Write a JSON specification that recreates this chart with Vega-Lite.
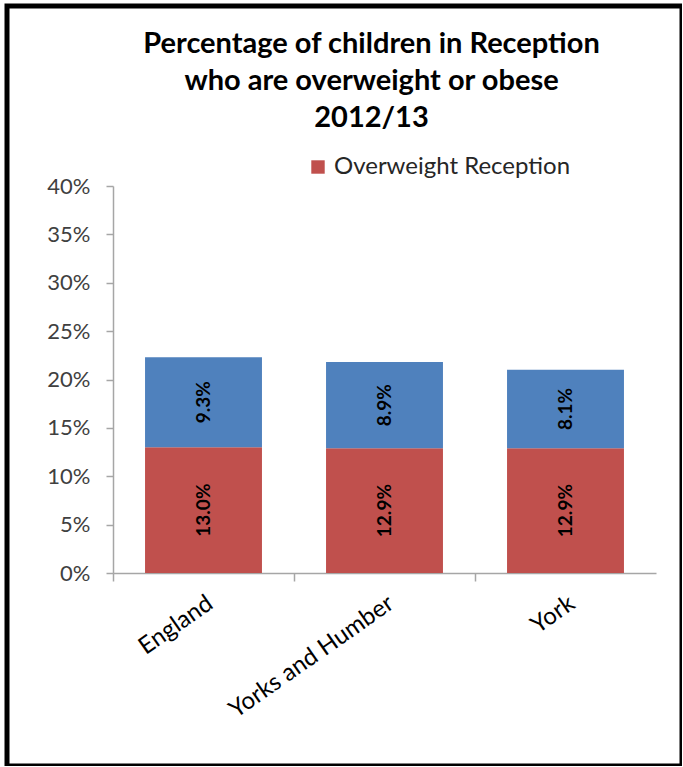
{
  "$schema": "https://vega.github.io/schema/vega-lite/v6.json",
  "width": 675,
  "height": 760,
  "autosize": "none",
  "padding": {"left": 7, "top": 6, "right": 0, "bottom": 0},
  "background": "white",
  "title": {
    "text": ["Percentage of children in Reception", "who are overweight or obese", "2012/13"],
    "font": "Lato",
    "fontSize": 29,
    "fontWeight": "bold",
    "color": "#000000",
    "lineHeight": 37,
    "anchor": "middle",
    "frame": "group",
    "baseline": "top",
    "offset": -127,
    "dx": 27
  },
  "data": {
    "values": [
      {"area": "England", "measure": "Overweight Reception", "value": 0.130},
      {"area": "England", "measure": "Obese Reception", "value": 0.093},
      {"area": "Yorks and Humber", "measure": "Overweight Reception", "value": 0.129},
      {"area": "Yorks and Humber", "measure": "Obese Reception", "value": 0.089},
      {"area": "York", "measure": "Overweight Reception", "value": 0.129},
      {"area": "York", "measure": "Obese Reception", "value": 0.081}
    ]
  },
  "transform": [
    {"stack": "value", "groupby": ["area"], "sort": [{"field": "measure", "order": "descending"}], "as": ["v0", "v1"]},
    {"calculate": "(datum.v0 + datum.v1) / 2", "as": "mid"}
  ],
  "encoding": {
    "x": {
      "field": "area",
      "type": "nominal",
      "sort": ["England", "Yorks and Humber", "York"],
      "scale": {"type": "band", "range": [106, 649], "paddingInner": 0, "paddingOuter": 0},
      "axis": {
        "title": null,
        "offset": -193,
        "bandPosition": 0,
        "domainColor": "#a6a6a6",
        "domainWidth": 1.5,
        "tickColor": "#a6a6a6",
        "tickWidth": 1.5,
        "tickSize": 8,
        "labelAngle": -35,
        "labelFont": "Lato",
        "labelFontSize": 24,
        "labelColor": "#000000",
        "labelPadding": 10,
        "labelLimit": 400
      }
    }
  },
  "layer": [
    {
      "mark": {"type": "bar", "width": {"band": 0.646}},
      "encoding": {
        "y": {
          "field": "v0",
          "type": "quantitative",
          "scale": {"domain": [0, 0.4], "range": [567, 180], "nice": false},
          "axis": {
            "title": null,
            "offset": -106,
            "values": [0, 0.05, 0.1, 0.15, 0.2, 0.25, 0.3, 0.35, 0.4],
            "format": ".0%",
            "grid": false,
            "domainColor": "#a6a6a6",
            "domainWidth": 1.5,
            "tickColor": "#a6a6a6",
            "tickWidth": 1.5,
            "tickSize": 7,
            "labelFont": "Lato",
            "labelFontSize": 22,
            "labelColor": "#404040",
            "labelPadding": 16
          }
        },
        "y2": {"field": "v1"},
        "color": {
          "field": "measure",
          "type": "nominal",
          "scale": {"domain": ["Overweight Reception", "Obese Reception"], "range": ["#C0504D", "#4F81BD"]},
          "legend": {
            "title": null,
            "values": ["Overweight Reception"],
            "orient": "none",
            "legendX": 299,
            "legendY": 149,
            "symbolType": "square",
            "symbolSize": 180,
            "symbolStrokeWidth": 0,
            "labelFont": "Lato",
            "labelFontSize": 24,
            "labelColor": "#262626",
            "labelOffset": 4,
            "labelLimit": 400
          }
        }
      }
    },
    {
      "mark": {"type": "text", "angle": 270, "font": "Lato", "fontSize": 19, "fontWeight": "bold", "color": "#000000", "align": "center", "baseline": "middle"},
      "encoding": {
        "y": {"field": "mid", "type": "quantitative"},
        "text": {"field": "value", "type": "quantitative", "format": ".1%"}
      }
    }
  ],
  "config": {
    "view": {"stroke": "#000000", "strokeWidth": 5}
  }
}
